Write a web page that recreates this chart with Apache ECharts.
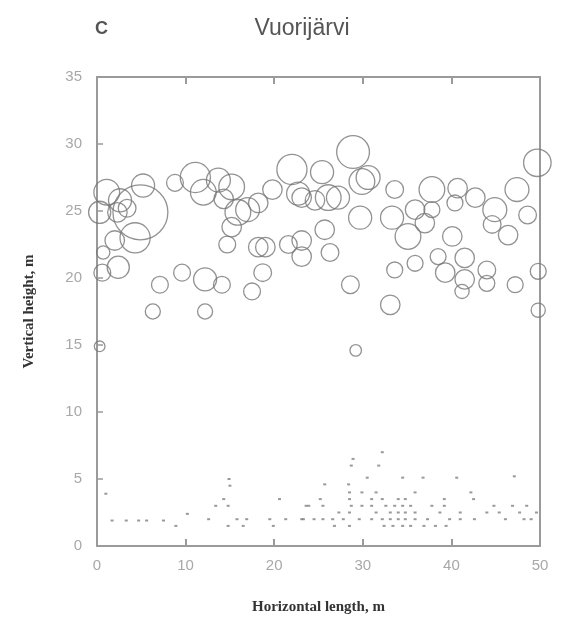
<!DOCTYPE html>
<html>
<head>
<meta charset="utf-8">
<script src="https://cdn.jsdelivr.net/npm/echarts@6/dist/echarts.min.js"></script>
<style>
  html, body { margin: 0; padding: 0; background: #fff; }
  #main { width: 585px; height: 625px; }
</style>
</head>
<body>
<div id="main"></div>
<script>
// trees: [horizontal m, vertical m, crown width m]
const treeX = [1.1, 0.3, 2.6, 4.9, 5.2, 2.3, 4.3, 2.0, 0.7, 2.4, 0.6, 0.3, 8.8, 11.1, 12.0, 13.7, 15.2, 15.9, 17.0, 18.2,
  15.2, 14.7, 18.2, 19.0, 18.7, 22.0, 22.7, 19.8, 21.6, 23.1, 9.6, 12.2, 14.1, 7.1, 17.5, 6.3, 12.2, 25.4, 28.9, 29.9,
  30.6, 29.7, 26.1, 27.2, 24.6, 23.1, 23.1, 25.7, 26.3, 28.6, 33.1, 33.6, 37.8, 33.3, 35.1, 35.9, 37.0, 37.8, 40.7, 42.7,
  40.4, 40.1, 44.9, 44.6, 46.4, 33.6, 35.9, 38.5, 39.3, 41.5, 41.5, 44.0, 44.0, 41.2, 49.7, 49.8, 49.8, 47.4, 48.6, 29.2,
  47.2, 3.4, 14.3];
const treeY = [26.4, 24.9, 25.8, 24.9, 26.9, 24.9, 23.0, 22.8, 21.9, 20.8, 20.4, 14.9, 27.1, 27.5, 26.4, 27.3, 26.8, 24.9, 25.1, 25.6,
  23.8, 22.5, 22.3, 22.3, 20.4, 28.1, 26.3, 26.6, 22.5, 21.6, 20.4, 19.9, 19.5, 19.5, 19.0, 17.5, 17.5, 27.9, 29.4, 27.2,
  27.5, 24.5, 26.0, 26.0, 25.8, 26.0, 22.8, 23.6, 21.9, 19.5, 18.0, 26.6, 26.6, 24.5, 23.1, 25.1, 24.1, 25.1, 26.7, 26.0,
  25.6, 23.1, 25.1, 24.0, 23.2, 20.6, 21.1, 21.6, 20.4, 21.5, 19.9, 20.6, 19.6, 19.0, 28.6, 20.5, 17.6, 26.6, 24.7, 14.6,
  19.5, 25.2, 25.9];
const treeCrown = [2.9, 2.5, 2.6, 6.2, 2.6, 2.2, 3.4, 2.2, 1.5, 2.5, 1.9, 1.2, 1.9, 3.4, 2.9, 2.7, 2.9, 2.9, 2.7, 2.2,
  2.2, 1.9, 2.2, 2.2, 2.0, 3.4, 2.6, 2.2, 2.0, 2.2, 1.9, 2.6, 1.9, 1.9, 1.9, 1.7, 1.7, 2.6, 3.7, 2.9,
  2.7, 2.6, 2.9, 2.6, 2.2, 2.2, 2.2, 2.2, 2.0, 2.0, 2.2, 2.0, 2.9, 2.6, 2.9, 2.2, 2.2, 1.8, 2.2, 2.2,
  1.8, 2.2, 2.7, 2.0, 2.2, 1.8, 1.8, 1.8, 2.2, 2.2, 2.2, 2.0, 1.8, 1.6, 3.1, 1.8, 1.6, 2.7, 2.0, 1.3,
  1.8, 2.0, 2.2];

// seedlings near the ground
const seedX = [1.0, 1.7, 3.3, 4.7, 5.6, 7.5, 8.9, 10.2, 12.6, 13.4, 14.3, 14.9, 15.0, 14.8, 14.8, 15.8, 16.5, 16.9, 19.5, 19.9,
  20.6, 21.3, 23.3, 23.6, 32.2, 28.9, 28.7, 31.8, 25.7, 28.4, 30.5, 34.5, 36.8, 40.6, 47.1, 28.5, 29.9, 31.5, 35.9, 42.2,
  25.2, 28.5, 31.0, 32.2, 34.0, 34.8, 39.2, 42.5, 23.9, 25.5, 28.7, 29.9, 31.0, 32.6, 33.6, 34.5, 35.4, 37.8, 39.2, 44.8,
  46.9, 27.3, 28.5, 31.5, 33.1, 34.0, 34.8, 35.9, 38.7, 41.0, 44.0, 45.4, 23.1, 24.5, 25.5, 26.6, 27.8, 29.6, 31.0, 32.2,
  33.1, 34.0, 34.8, 35.9, 37.3, 39.8, 41.0, 42.6, 46.1, 26.8, 28.5, 32.4, 33.4, 34.5, 35.4, 36.9, 38.2, 39.4, 48.2, 49.0,
  49.6, 48.5, 47.7];
const seedY = [3.9, 1.9, 1.9, 1.9, 1.9, 1.9, 1.5, 2.4, 2.0, 3.0, 3.5, 5.0, 4.5, 3.0, 1.5, 2.0, 1.5, 2.0, 2.0, 1.5,
  3.5, 2.0, 2.0, 3.0, 7.0, 6.5, 6.0, 6.0, 4.6, 4.6, 5.1, 5.1, 5.1, 5.1, 5.2, 4.0, 4.0, 4.0, 4.0, 4.0,
  3.5, 3.5, 3.5, 3.5, 3.5, 3.5, 3.5, 3.5, 3.0, 3.0, 3.0, 3.0, 3.0, 3.0, 3.0, 3.0, 3.0, 3.0, 3.0, 3.0,
  3.0, 2.5, 2.5, 2.5, 2.5, 2.5, 2.5, 2.5, 2.5, 2.5, 2.5, 2.5, 2.0, 2.0, 2.0, 2.0, 2.0, 2.0, 2.0, 2.0,
  2.0, 2.0, 2.0, 2.0, 2.0, 2.0, 2.0, 2.0, 2.0, 1.5, 1.5, 1.5, 1.5, 1.5, 1.5, 1.5, 1.5, 1.5, 2.0, 2.0,
  2.5, 3.0, 2.5];

const xTicks = [0, 10, 20, 30, 40, 50];
const yTicks = [0, 5, 10, 15, 20, 25, 30, 35];

const chart = echarts.init(document.getElementById('main'));
const pxPerMetre = 8.86;

const trees = treeX.map((x, i) => [x, treeY[i], treeCrown[i]]);
const seeds = seedX.map((x, i) => [x, seedY[i]]);

const labelStyle = { color: '#a8a8a8', fontSize: 15, fontFamily: 'Liberation Sans, Arial, sans-serif' };
const boxLine = { show: true, onZero: false, lineStyle: { color: '#9a9a9a', width: 2 } };
const nameStyle = { color: '#333', fontSize: 15, fontWeight: 'bold', fontFamily: 'Liberation Serif, DejaVu Serif, serif' };

const option = {
  backgroundColor: '#fff',
  animation: false,
  title: [
    { text: 'C', left: 90, top: 15, textStyle: { color: '#555', fontSize: 18, fontWeight: 'bold', fontFamily: 'Liberation Sans, Arial, sans-serif' } },
    { text: 'Vuorijärvi', left: 297, top: 12, textAlign: 'center', textStyle: { color: '#555', fontSize: 23, fontWeight: 'normal', fontFamily: 'Liberation Sans, Arial, sans-serif' } }
  ],
  grid: { left: 97, right: 45, top: 77, bottom: 79 },
  xAxis: [
    {
      type: 'value', min: 0, max: 50, interval: 10, position: 'bottom',
      axisLine: boxLine,
      axisTick: { show: true, inside: true, length: 7, lineStyle: { color: '#9a9a9a', width: 2 } },
      axisLabel: Object.assign({ margin: 12, formatter: v => xTicks.includes(v) ? v : '' }, labelStyle),
      splitLine: { show: false },
      name: 'Horizontal length, m', nameLocation: 'middle', nameGap: 54,
      nameTextStyle: nameStyle
    },
    {
      type: 'value', min: 0, max: 50, interval: 10, position: 'top',
      axisLine: boxLine,
      axisTick: { show: true, inside: true, length: 7, lineStyle: { color: '#9a9a9a', width: 2 } },
      axisLabel: { show: false }, splitLine: { show: false }
    }
  ],
  yAxis: [
    {
      type: 'value', min: 0, max: 35, interval: 5, position: 'left',
      axisLine: boxLine,
      axisTick: { show: true, inside: true, length: 6, lineStyle: { color: '#9a9a9a', width: 1.5 } },
      axisLabel: Object.assign({ margin: 15, formatter: v => yTicks.includes(v) ? v : '' }, labelStyle),
      splitLine: { show: false },
      name: 'Vertical height, m', nameLocation: 'middle', nameGap: 60, nameRotate: 90,
      nameTextStyle: nameStyle
    },
    {
      type: 'value', min: 0, max: 35, interval: 5, position: 'right',
      axisLine: boxLine, axisTick: { show: false },
      axisLabel: { show: false }, splitLine: { show: false }
    }
  ],
  series: [
    {
      name: 'trees', type: 'scatter', data: trees,
      symbol: 'circle',
      symbolSize: v => v[2] * pxPerMetre,
      itemStyle: { color: 'rgba(0,0,0,0)', borderColor: '#777', borderWidth: 1.3, opacity: 0.8 }
    },
    {
      name: 'seedlings', type: 'scatter', data: seeds,
      symbol: 'rect', symbolSize: [3, 2],
      itemStyle: { color: '#777', opacity: 0.75 }
    }
  ]
};
chart.setOption(option);
</script>
</body>
</html>
